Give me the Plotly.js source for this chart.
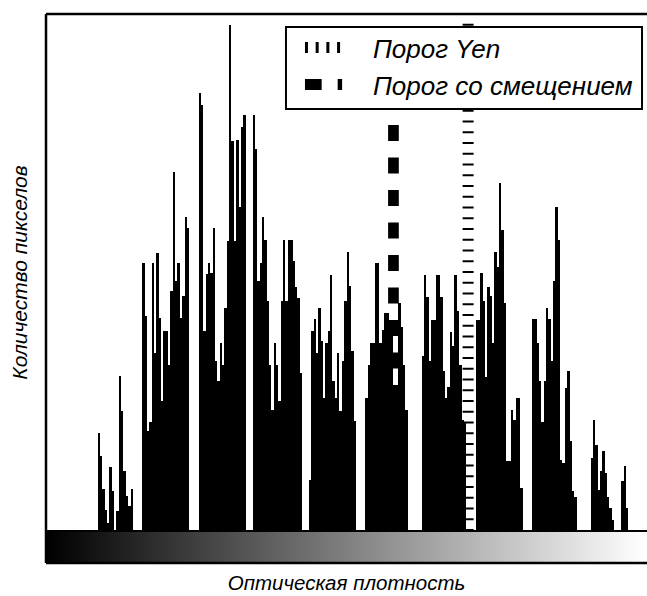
<!DOCTYPE html>
<html>
<head>
<meta charset="utf-8">
<script src="https://cdn.plot.ly/plotly-3.0.1.min.js"></script>
<style>html,body{margin:0;padding:0;background:#fff;}#chart{width:647px;height:596px;}</style>
</head>
<body>
<div id="chart"></div>
<script>
// Pixel counts per optical-density level (0..255)
const counts = [
  0,0,0,0,0,0,0,0,0,0,0,0,0,0,0,0,
  0,0,0,0,0,0,98,75,42,21,8,64,40,0,20,155,
  120,60,35,25,42,0,0,0,0,268,215,100,109,268,178,278,
  213,130,200,200,166,240,359,250,268,213,235,314,303,0,0,0,
  0,438,426,200,257,268,258,303,170,150,188,166,223,290,506,390,
  290,391,324,404,416,0,0,0,416,382,250,268,314,291,230,166,
  121,188,166,130,230,291,230,291,291,270,244,233,158,0,0,0,
  51,200,212,178,223,190,133,188,200,256,150,133,178,120,170,230,
  279,245,180,110,0,0,0,0,133,166,188,188,268,268,188,201,
  218,218,199,199,134,134,228,204,166,121,0,0,0,0,0,0,
  175,256,234,170,211,211,256,256,234,160,133,144,199,185,256,220,
  166,111,109,0,0,0,0,211,211,258,230,154,244,235,188,279,
  264,348,301,228,70,70,121,111,133,133,43,0,0,0,0,212,
  212,188,150,109,150,223,212,170,250,324,291,71,68,143,160,90,
  40,34,0,0,0,0,0,0,73,111,86,41,60,80,58,34,
  23,11,0,0,0,50,65,23,0,0,0,0,0,0,0,0
];
const levels = counts.map((_, i) => i);

// Thresholds (optical-density level)
const yenThreshold = 179.3;
const offsetThreshold = 147.5;
const countMax = 517;

const seriesNames = ['Порог Yen', 'Порог со смещением'];
const xTitle = 'Оптическая плотность';
const yTitle = 'Количество пикселов';

const FONT = 'Liberation Sans, Arial, sans-serif';
const gradTop = 32 / 549;

const yenLine = {color: '#000', width: 11, dash: '2px,8.75px'};
const offLine = {color: '#000', width: 10.7, dash: '16px,16.5px'};

const traces = [
  {
    type: 'bar', x: levels, y: counts, xaxis: 'x', yaxis: 'y',
    marker: {color: '#000', line: {width: 0}}, showlegend: false, hoverinfo: 'skip'
  },
  {
    type: 'heatmap', x: levels, y: [0], z: [levels], xaxis: 'x', yaxis: 'y2',
    colorscale: [[0, '#000'], [1, '#fff']], showscale: false, hoverinfo: 'skip'
  },
  {
    type: 'scatter', mode: 'lines', name: seriesNames[0], showlegend: false,
    x: [yenThreshold, yenThreshold], y: [0, countMax], xaxis: 'x', yaxis: 'y',
    line: yenLine
  },
  {
    type: 'scatter', mode: 'lines', name: seriesNames[1], showlegend: false,
    x: [offsetThreshold, offsetThreshold], y: [0, countMax], xaxis: 'x', yaxis: 'y',
    line: offLine
  }
];

// legend box drawn in paper coordinates
const lg = {x0: 0.3993, x1: 0.9917, y0: 0.827, y1: 0.9763,
            sx0: 0.4309, sx1: 0.4917, tx: 0.5408, rows: [0.9390, 0.8716]};

const layout = {
  width: 647, height: 596,
  margin: {l: 46, r: 0, t: 14, b: 33, pad: 0},
  paper_bgcolor: '#fff', plot_bgcolor: '#fff',
  font: {family: FONT, color: '#000'},
  bargap: 0,
  showlegend: false,
  xaxis: {
    domain: [0, 1], range: [-0.5, 255.5], anchor: 'y2',
    showgrid: false, zeroline: false, showline: false, ticks: '', showticklabels: false,
    title: {text: xTitle, font: {size: 20.5, style: 'italic', family: FONT, color: '#000'}, standoff: 12}
  },
  yaxis: {
    domain: [gradTop, 1], range: [0, countMax], anchor: 'x',
    showgrid: false, zeroline: false, showline: false, ticks: '', showticklabels: false,
    title: {text: yTitle, font: {size: 21, style: 'italic', family: FONT, color: '#000'}, standoff: 11}
  },
  yaxis2: {
    domain: [0, gradTop], range: [-0.5, 0.5], anchor: 'x',
    showgrid: false, zeroline: false, showline: false, ticks: '', showticklabels: false
  },
  shapes: [
    {type: 'line', xref: 'paper', yref: 'paper', x0: 0, x1: 0, y0: 0, y1: 1, line: {color: '#000', width: 2.5}},
    {type: 'line', xref: 'paper', yref: 'paper', x0: 0, x1: 1, y0: 1, y1: 1, line: {color: '#000', width: 2.5}},
    {type: 'line', xref: 'paper', yref: 'paper', x0: 0, x1: 1, y0: gradTop, y1: gradTop, line: {color: '#000', width: 2}},
    {type: 'line', xref: 'paper', yref: 'paper', x0: 0, x1: 1, y0: 0, y1: 0, line: {color: '#000', width: 2.5}},
    {type: 'rect', xref: 'paper', yref: 'paper', x0: lg.x0, x1: lg.x1, y0: lg.y0, y1: lg.y1,
     fillcolor: '#fff', line: {color: '#000', width: 2}},
    {type: 'line', xref: 'paper', yref: 'paper', x0: lg.sx0, x1: lg.sx1, y0: lg.rows[0], y1: lg.rows[0],
     line: {color: '#000', width: 11, dash: '3px,7.7px'}},
    {type: 'line', xref: 'paper', yref: 'paper', x0: lg.sx0, x1: lg.sx1 + 0.001, y0: lg.rows[1], y1: lg.rows[1],
     line: {color: '#000', width: 11, dash: '16.7px,16px'}}
  ],
  annotations: seriesNames.map((t, i) => ({
    text: t, xref: 'paper', yref: 'paper', x: lg.tx, y: lg.rows[i] - 0.002,
    xanchor: 'left', yanchor: 'middle', showarrow: false,
    font: {size: 26, style: 'italic', family: FONT, color: '#000'}
  }))
};

Plotly.newPlot('chart', traces, layout, {displayModeBar: false, staticPlot: true});
</script>
</body>
</html>
